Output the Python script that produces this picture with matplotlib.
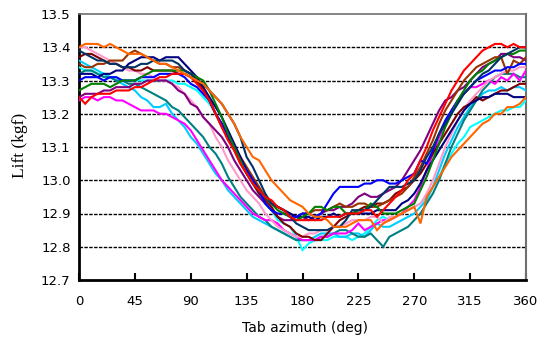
import matplotlib
matplotlib.use("Agg")
import matplotlib.pyplot as plt

# Tab azimuth in degrees, sampled every 5 deg
azimuth = list(range(0, 361, 5))

lift_lightcyan = [
    13.34, 13.33, 13.33, 13.32, 13.32, 13.31, 13.31, 13.30, 13.30, 13.30,
    13.30, 13.30, 13.30, 13.30, 13.30, 13.30, 13.29, 13.29, 13.28, 13.27,
    13.25, 13.23, 13.20, 13.17, 13.13, 13.10, 13.06, 13.02, 12.99, 12.96,
    12.93, 12.91, 12.88, 12.87, 12.86, 12.83, 12.79, 12.81, 12.82, 12.82,
    12.82, 12.83, 12.83, 12.83, 12.82, 12.83, 12.84, 12.86, 12.88, 12.89,
    12.88, 12.89, 12.90, 12.91, 12.92, 12.93, 12.95, 12.98, 13.01, 13.05,
    13.08, 13.11, 13.13, 13.16, 13.17, 13.18, 13.19, 13.20, 13.21, 13.21,
    13.22, 13.22, 13.24]

lift_cyan = [
    13.36, 13.35, 13.34, 13.33, 13.32, 13.31, 13.30, 13.29, 13.28, 13.27,
    13.25, 13.24, 13.22, 13.22, 13.23, 13.20, 13.18, 13.16, 13.13, 13.11,
    13.08, 13.05, 13.02, 13.00, 12.97, 12.95, 12.93, 12.91, 12.89, 12.88,
    12.87, 12.86, 12.85, 12.84, 12.83, 12.82, 12.82, 12.82, 12.83, 12.84,
    12.84, 12.84, 12.83, 12.83, 12.84, 12.84, 12.83, 12.85, 12.87, 12.86,
    12.86, 12.87, 12.88, 12.89, 12.90, 12.92, 12.94, 12.98, 13.03, 13.08,
    13.12, 13.16, 13.19, 13.22, 13.24, 13.26, 13.27, 13.27, 13.28, 13.27,
    13.28, 13.28, 13.27]

lift_teal = [
    13.32, 13.33, 13.33, 13.32, 13.31, 13.31, 13.30, 13.30, 13.29, 13.29,
    13.28, 13.27, 13.26, 13.25, 13.24, 13.22, 13.21, 13.19, 13.17, 13.15,
    13.13, 13.10, 13.08, 13.05, 13.01, 12.98, 12.95, 12.93, 12.91, 12.89,
    12.88, 12.86, 12.85, 12.84, 12.83, 12.82, 12.82, 12.82, 12.82, 12.83,
    12.83, 12.84, 12.85, 12.85, 12.84, 12.83, 12.83, 12.84, 12.82, 12.80,
    12.83, 12.84, 12.85, 12.86, 12.88, 12.90, 12.93, 12.96, 13.00, 13.05,
    13.10, 13.14, 13.18, 13.21, 13.24, 13.27, 13.29, 13.31, 13.32, 13.32,
    13.32, 13.31, 13.31]

lift_magenta = [
    13.24, 13.25, 13.25, 13.24, 13.25, 13.25, 13.24, 13.24, 13.23, 13.22,
    13.21, 13.21, 13.21, 13.20, 13.20, 13.19, 13.18, 13.17, 13.15, 13.12,
    13.09, 13.06, 13.03, 13.00, 12.98, 12.96, 12.94, 12.92, 12.90, 12.89,
    12.88, 12.88, 12.87, 12.85, 12.84, 12.83, 12.82, 12.82, 12.82, 12.83,
    12.83, 12.84, 12.84, 12.84, 12.85, 12.87, 12.85, 12.86, 12.87, 12.88,
    12.88, 12.89, 12.90, 12.92, 12.94, 12.98, 13.03, 13.08, 13.13, 13.17,
    13.21, 13.24, 13.26, 13.28, 13.28, 13.29, 13.30, 13.29, 13.31, 13.30,
    13.32, 13.30, 13.33]

lift_pink = [
    13.40, 13.40, 13.39, 13.38, 13.37, 13.36, 13.35, 13.34, 13.33, 13.33,
    13.32, 13.32, 13.31, 13.30, 13.30, 13.29, 13.28, 13.26, 13.24, 13.22,
    13.19, 13.17, 13.13, 13.10, 13.06, 13.03, 13.00, 12.97, 12.95, 12.93,
    12.90, 12.88, 12.86, 12.85, 12.84, 12.83, 12.83, 12.84, 12.84, 12.85,
    12.85, 12.86, 12.86, 12.87, 12.88, 12.88, 12.88, 12.89, 12.89, 12.87,
    12.89, 12.89, 12.90, 12.91, 12.92, 12.93, 12.96, 13.00, 13.05, 13.10,
    13.14, 13.18, 13.21, 13.24, 13.26, 13.28, 13.30, 13.31, 13.32, 13.33,
    13.33, 13.34, 13.34]

lift_purple = [
    13.25, 13.26, 13.26, 13.26, 13.27, 13.27, 13.28, 13.28, 13.28, 13.29,
    13.29, 13.30, 13.30, 13.30, 13.30, 13.29, 13.27, 13.26, 13.23, 13.22,
    13.19, 13.17, 13.15, 13.13, 13.10, 13.06, 13.03, 13.00, 12.97, 12.95,
    12.93, 12.91, 12.89, 12.88, 12.88, 12.88, 12.89, 12.88, 12.89, 12.90,
    12.91, 12.91, 12.92, 12.92, 12.93, 12.95, 12.96, 12.95, 12.95, 12.96,
    12.97, 12.98, 13.00, 13.03, 13.06, 13.09, 13.13, 13.17, 13.21, 13.24,
    13.25, 13.27, 13.28, 13.30, 13.32, 13.34, 13.35, 13.36, 13.38, 13.38,
    13.37, 13.37, 13.36]

lift_maroon = [
    13.37, 13.38, 13.38, 13.37, 13.36, 13.35, 13.35, 13.34, 13.34, 13.33,
    13.33, 13.34, 13.33, 13.33, 13.33, 13.33, 13.32, 13.32, 13.31, 13.30,
    13.27, 13.24, 13.20, 13.17, 13.13, 13.09, 13.05, 13.02, 12.99, 12.96,
    12.94, 12.92, 12.89, 12.87, 12.86, 12.84, 12.83, 12.83, 12.82, 12.82,
    12.84, 12.86, 12.88, 12.89, 12.90, 12.91, 12.92, 12.92, 12.93, 12.93,
    12.94, 12.96, 12.97, 12.98, 13.00, 13.02, 13.05, 13.08, 13.11, 13.14,
    13.17, 13.20, 13.22, 13.23, 13.25, 13.24, 13.25, 13.26, 13.27, 13.27,
    13.28, 13.29, 13.29]

lift_brown = [
    13.35, 13.34, 13.34, 13.35, 13.35, 13.36, 13.36, 13.36, 13.38, 13.39,
    13.38, 13.37, 13.36, 13.35, 13.35, 13.34, 13.34, 13.33, 13.32, 13.31,
    13.28, 13.24, 13.20, 13.16, 13.13, 13.10, 13.07, 13.04, 13.01, 12.98,
    12.95, 12.93, 12.92, 12.91, 12.90, 12.89, 12.90, 12.90, 12.91, 12.91,
    12.91, 12.92, 12.93, 12.92, 12.92, 12.93, 12.93, 12.92, 12.92, 12.93,
    12.94, 12.95, 12.96, 12.98, 13.01, 13.04, 13.08, 13.12, 13.17, 13.21,
    13.24, 13.27, 13.30, 13.32, 13.34, 13.35, 13.36, 13.37, 13.37, 13.32,
    13.36, 13.35, 13.37]

lift_navy = [
    13.32, 13.32, 13.32, 13.31, 13.32, 13.32, 13.33, 13.33, 13.35, 13.36,
    13.37, 13.37, 13.37, 13.36, 13.37, 13.37, 13.37, 13.35, 13.33, 13.31,
    13.28, 13.25, 13.22, 13.19, 13.15, 13.11, 13.07, 13.03, 13.00, 12.97,
    12.95, 12.93, 12.92, 12.91, 12.90, 12.89, 12.89, 12.89, 12.88, 12.89,
    12.89, 12.90, 12.89, 12.90, 12.90, 12.90, 12.90, 12.90, 12.91, 12.91,
    12.91, 12.91, 12.93, 12.94, 12.96, 12.99, 13.03, 13.06, 13.09, 13.12,
    13.15, 13.18, 13.21, 13.23, 13.24, 13.25, 13.25, 13.26, 13.26, 13.26,
    13.25, 13.25, 13.25]

lift_blue = [
    13.30, 13.31, 13.31, 13.31, 13.30, 13.31, 13.31, 13.30, 13.30, 13.30,
    13.31, 13.31, 13.31, 13.32, 13.32, 13.32, 13.32, 13.31, 13.29, 13.28,
    13.26, 13.24, 13.20, 13.17, 13.13, 13.10, 13.06, 13.03, 13.00, 12.97,
    12.93, 12.91, 12.90, 12.90, 12.89, 12.89, 12.90, 12.90, 12.89, 12.90,
    12.93, 12.96, 12.98, 12.98, 12.98, 12.98, 12.99, 12.99, 13.00, 13.00,
    12.99, 12.99, 13.00, 13.01, 13.02, 13.06, 13.05, 13.09, 13.14, 13.18,
    13.21, 13.24, 13.26, 13.28, 13.30, 13.31, 13.32, 13.33, 13.33, 13.34,
    13.34, 13.35, 13.35]

lift_green = [
    13.27, 13.28, 13.29, 13.29, 13.29, 13.28, 13.29, 13.30, 13.30, 13.30,
    13.31, 13.32, 13.33, 13.33, 13.33, 13.33, 13.33, 13.33, 13.32, 13.31,
    13.30, 13.27, 13.23, 13.19, 13.14, 13.10, 13.06, 13.02, 12.99, 12.97,
    12.95, 12.93, 12.91, 12.90, 12.89, 12.88, 12.89, 12.90, 12.92, 12.92,
    12.91, 12.92, 12.92, 12.90, 12.90, 12.91, 12.91, 12.93, 12.92, 12.90,
    12.90, 12.90, 12.91, 12.92, 12.93, 12.97, 13.01, 13.06, 13.11, 13.16,
    13.20, 13.24, 13.27, 13.30, 13.32, 13.33, 13.35, 13.36, 13.37, 13.38,
    13.38, 13.39, 13.39]

lift_slate = [
    13.39, 13.38, 13.37, 13.36, 13.36, 13.35, 13.35, 13.34, 13.34, 13.34,
    13.35, 13.35, 13.36, 13.36, 13.36, 13.36, 13.35, 13.33, 13.32, 13.30,
    13.29, 13.27, 13.25, 13.23, 13.20, 13.17, 13.13, 13.07, 13.04, 13.00,
    12.96, 12.93, 12.92, 12.91, 12.89, 12.87, 12.86, 12.85, 12.85, 12.85,
    12.85, 12.86, 12.86, 12.88, 12.91, 12.91, 12.91, 12.92, 12.94, 12.96,
    12.98, 12.98, 12.98, 12.99, 13.00, 13.03, 13.07, 13.10, 13.14, 13.17,
    13.20, 13.23, 13.26, 13.28, 13.30, 13.32, 13.33, 13.35, 13.37, 13.38,
    13.39, 13.40, 13.40]

lift_red = [
    13.25, 13.23, 13.25, 13.26, 13.26, 13.26, 13.27, 13.27, 13.27, 13.28,
    13.28, 13.29, 13.30, 13.31, 13.31, 13.32, 13.32, 13.32, 13.31, 13.29,
    13.27, 13.24, 13.20, 13.16, 13.12, 13.09, 13.05, 13.02, 12.99, 12.97,
    12.95, 12.94, 12.92, 12.91, 12.89, 12.88, 12.88, 12.88, 12.88, 12.88,
    12.89, 12.89, 12.89, 12.90, 12.90, 12.90, 12.91, 12.91, 12.89, 12.91,
    12.93, 12.95, 12.97, 13.00, 13.02, 13.06, 13.10, 13.15, 13.19, 13.23,
    13.27, 13.30, 13.33, 13.35, 13.37, 13.39, 13.40, 13.41, 13.41, 13.40,
    13.41, 13.40, 13.40]

lift_orange = [
    13.40, 13.41, 13.41, 13.41, 13.40, 13.41, 13.40, 13.39, 13.38, 13.38,
    13.38, 13.37, 13.36, 13.35, 13.35, 13.34, 13.33, 13.32, 13.31, 13.30,
    13.29, 13.27, 13.25, 13.23, 13.20, 13.17, 13.13, 13.10, 13.07, 13.06,
    13.03, 13.00, 12.98, 12.96, 12.94, 12.93, 12.92, 12.90, 12.89, 12.89,
    12.88, 12.86, 12.86, 12.86, 12.87, 12.88, 12.88, 12.88, 12.85, 12.87,
    12.88, 12.89, 12.90, 12.91, 12.92, 12.87, 12.95, 12.98, 13.01, 13.04,
    13.07, 13.09, 13.11, 13.13, 13.15, 13.17, 13.18, 13.20, 13.20, 13.22,
    13.22, 13.23, 13.25]

series = [
    (lift_lightcyan, "#00FFFF"),
    (lift_cyan, "#00CCFF"),
    (lift_teal, "#008080"),
    (lift_magenta, "#FF00FF"),
    (lift_pink, "#FF99CC"),
    (lift_purple, "#800080"),
    (lift_maroon, "#800000"),
    (lift_brown, "#993300"),
    (lift_navy, "#000080"),
    (lift_blue, "#0000FF"),
    (lift_green, "#008000"),
    (lift_slate, "#003366"),
    (lift_red, "#FF0000"),
    (lift_orange, "#FF6600"),
]

y_ticks = [12.7, 12.8, 12.9, 13.0, 13.1, 13.2, 13.3, 13.4, 13.5]
x_ticks = [0, 45, 90, 135, 180, 225, 270, 315, 360]

fig = plt.figure(figsize=(5.44, 3.40), dpi=100)
ax = fig.add_axes([79 / 544, 60 / 340, 447 / 544, 266 / 340])

for vals, col in series:
    ax.plot(azimuth, vals, color=col, lw=1.5, solid_joinstyle="miter", zorder=3)

# dashed horizontal reference lines at the inner tick values
for yv in y_ticks[1:-1]:
    ax.axhline(yv, color="black", lw=1.0, ls=(0, (2.5, 1.0)), zorder=1)

ax.set_xlim(0, 360)
ax.set_ylim(12.7, 13.5)
ax.set_xticks(x_ticks)
ax.set_yticks(y_ticks)
ax.set_yticklabels([f"{v:.1f}" for v in y_ticks])

for lab in ax.get_xticklabels() + ax.get_yticklabels():
    lab.set_fontfamily("DejaVu Sans")
    lab.set_fontsize(9.5)

ax.tick_params(axis="x", direction="in", length=5, width=1.5, pad=11, color="black")
ax.tick_params(axis="y", length=0, pad=6)

ax.spines["left"].set_linewidth(2.0)
ax.spines["bottom"].set_linewidth(2.0)
ax.spines["left"].set_color("black")
ax.spines["bottom"].set_color("black")
ax.spines["top"].set_color("#707070")
ax.spines["right"].set_color("#707070")
ax.spines["top"].set_linewidth(1.2)
ax.spines["right"].set_linewidth(1.5)

fig.text(305 / 544, 1 - 328 / 340, "Tab azimuth (deg)", ha="center", va="center",
         fontsize=10, family="DejaVu Sans")
fig.text(20 / 544, 1 - 145 / 340, "Lift (kgf)", ha="center", va="center",
         rotation=90, fontsize=12.5, family="Liberation Serif")

fig.savefig("out.png", dpi=100)
